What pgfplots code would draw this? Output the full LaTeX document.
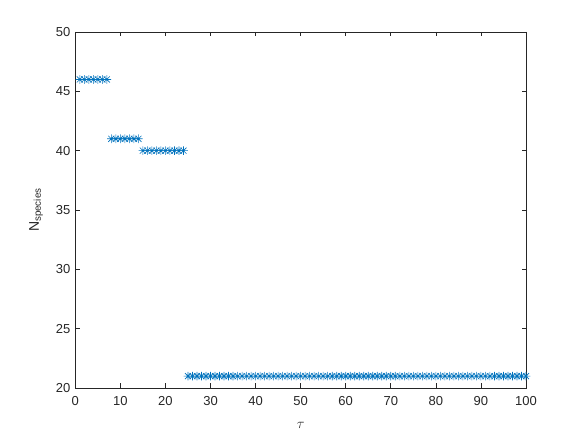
\documentclass[border=0pt]{standalone}
\usepackage{fontspec}
\setmainfont{Liberation Sans}
\setsansfont{Liberation Sans}
\usepackage{pgfplots}
\pgfplotsset{compat=1.18}
\definecolor{mblue}{rgb}{0,0.447,0.741}
\definecolor{axgray}{rgb}{0.15,0.15,0.15}
\pgfdeclareplotmark{mstar}{%
  \pgfpathmoveto{\pgfpoint{-\pgfplotmarksize}{0pt}}\pgfpathlineto{\pgfpoint{\pgfplotmarksize}{0pt}}%
  \pgfpathmoveto{\pgfpoint{0pt}{-\pgfplotmarksize}}\pgfpathlineto{\pgfpoint{0pt}{\pgfplotmarksize}}%
  \pgfpathmoveto{\pgfpoint{-0.707\pgfplotmarksize}{-0.707\pgfplotmarksize}}\pgfpathlineto{\pgfpoint{0.707\pgfplotmarksize}{0.707\pgfplotmarksize}}%
  \pgfpathmoveto{\pgfpoint{-0.707\pgfplotmarksize}{0.707\pgfplotmarksize}}\pgfpathlineto{\pgfpoint{0.707\pgfplotmarksize}{-0.707\pgfplotmarksize}}%
  \pgfusepathqstroke}
\pgfplotstableread{
x y
1 46
2 46
3 46
4 46
5 46
6 46
7 46
8 41
9 41
10 41
11 41
12 41
13 41
14 41
15 40
16 40
17 40
18 40
19 40
20 40
21 40
22 40
23 40
24 40
25 21
26 21
27 21
28 21
29 21
30 21
31 21
32 21
33 21
34 21
35 21
36 21
37 21
38 21
39 21
40 21
41 21
42 21
43 21
44 21
45 21
46 21
47 21
48 21
49 21
50 21
51 21
52 21
53 21
54 21
55 21
56 21
57 21
58 21
59 21
60 21
61 21
62 21
63 21
64 21
65 21
66 21
67 21
68 21
69 21
70 21
71 21
72 21
73 21
74 21
75 21
76 21
77 21
78 21
79 21
80 21
81 21
82 21
83 21
84 21
85 21
86 21
87 21
88 21
89 21
90 21
91 21
92 21
93 21
94 21
95 21
96 21
97 21
98 21
99 21
100 21
}\datatable
\begin{document}
\begin{tikzpicture}
\useasboundingbox (-75.3pt,-48pt) rectangle (505.7pt,388pt);
\begin{axis}[
  at={(0,0)}, anchor=south west,
  scale only axis,
  width=450.7pt, height=356pt,
  xmin=0, xmax=100, ymin=20, ymax=50,
  xtick={0,10,...,100}, ytick={20,25,...,50},
  tick align=inside,
  major tick length=4.5pt,
  axis line style={axgray, line width=0.6pt},
  every tick/.style={axgray, line width=0.6pt},
  tick label style={font=\fontsize{13}{15}\selectfont, text=axgray},
  xticklabel style={yshift=-5pt},
  yticklabel style={xshift=-1.5pt},
  /pgf/number format/assume math mode=true,
  xlabel={$\tau$},
  ylabel={N\textsubscript{species}},
  label style={font=\fontsize{14}{16}\selectfont, text=axgray},
  xlabel style={at={(axis description cs:0.5,-0.104)}, anchor=center},
  ylabel style={at={(axis description cs:-0.087,0.5)}, anchor=center},
]
\addplot[only marks, mark=mstar, mark size=4.3pt, color=mblue, line width=0.6pt] table[x=x,y=y] {\datatable};
\end{axis}
\end{tikzpicture}
\end{document}
